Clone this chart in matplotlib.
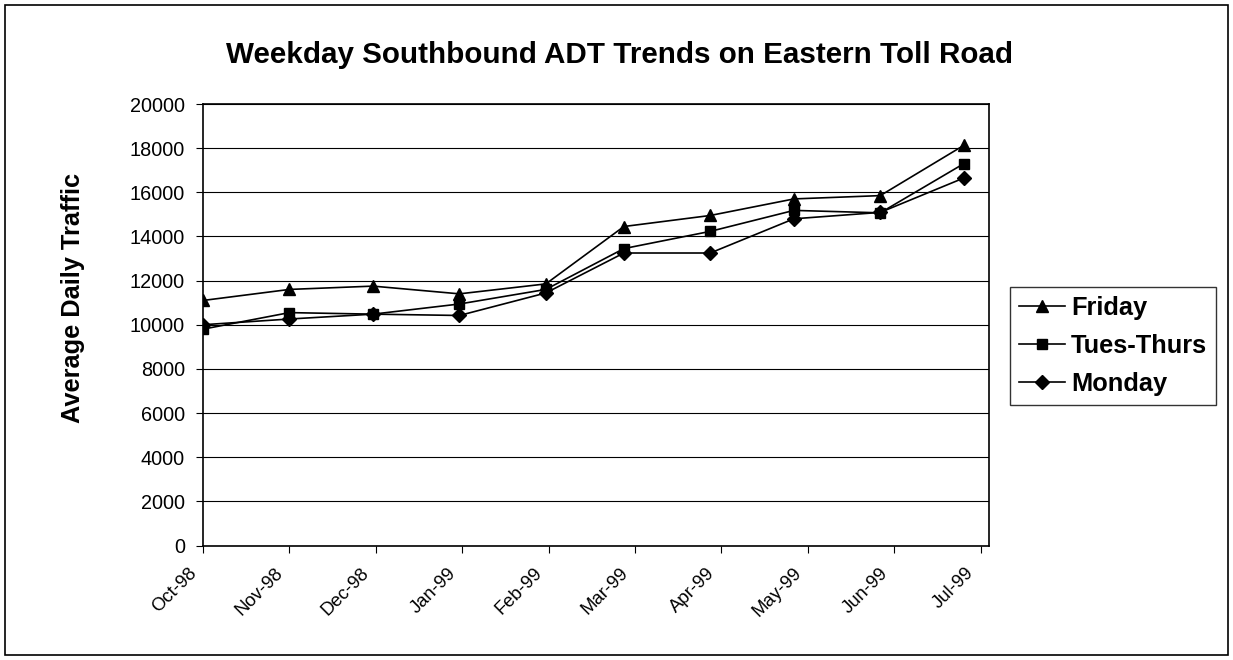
import matplotlib
matplotlib.use("Agg")
import matplotlib.pyplot as plt
import matplotlib.dates as mdates
from matplotlib.transforms import ScaledTranslation
from matplotlib.patches import Rectangle
import pandas as pd

# ---- data ----
months = ["1998-10-01", "1998-11-01", "1998-12-01", "1999-01-01", "1999-02-01",
          "1999-03-01", "1999-04-01", "1999-05-01", "1999-06-01", "1999-07-01"]
friday = [11100, 11600, 11750, 11400, 11850, 14450, 14950, 15700, 15850, 18130]
tues_thurs = [9800, 10550, 10480, 10940, 11600, 13450, 14230, 15180, 15070, 17300]
monday = [10000, 10260, 10480, 10420, 11440, 13250, 13250, 14800, 15090, 16650]
series_names = ["Friday", "Tues-Thurs", "Monday"]
y_ticks = [0, 2000, 4000, 6000, 8000, 10000, 12000, 14000, 16000, 18000, 20000]
title = "Weekday Southbound ADT Trends on Eastern Toll Road"
y_label = "Average Daily Traffic"

dates = pd.to_datetime(months)
tick_dates = pd.date_range(start=dates[0], periods=10, freq="31D")

plt.rcParams["font.family"] = ["Liberation Sans", "DejaVu Sans"]

W, H, DPI = 1233, 660, 100
fig = plt.figure(figsize=(W / DPI, H / DPI), dpi=DPI)
fig.patch.set_facecolor("white")

ax = fig.add_axes([203 / W, 1 - 545.5 / H, (989 - 203) / W, (545.5 - 104) / H])

markers = ["^", "s", "D"]
msizes = [9, 7, 7]
for vals, name, m, ms in zip([friday, tues_thurs, monday], series_names, markers, msizes):
    ax.plot(dates, vals, color="black", lw=1.2, marker=m, markersize=ms,
            markerfacecolor="black", markeredgecolor="black", label=name, zorder=3)

ax.set_ylim(0, 20000)
ax.set_yticks(y_ticks)
ax.set_xlim(dates[0], dates[0] + pd.Timedelta(days=282))
ax.set_xticks(tick_dates)
ax.xaxis.set_major_formatter(mdates.DateFormatter("%b-%y"))

ax.yaxis.grid(True, color="black", lw=0.8)
ax.xaxis.grid(False)
ax.set_axisbelow(True)
for s in ax.spines.values():
    s.set_color("black")
    s.set_linewidth(1.2)

ax.tick_params(axis="y", direction="out", length=5, width=0.8, pad=8, labelsize=14.3, colors="black")
ax.tick_params(axis="x", direction="out", length=5, width=0.8, pad=13, labelsize=13.3, colors="black")
offset = ScaledTranslation(-9 / DPI, 0, fig.dpi_scale_trans)
for lab in ax.get_xticklabels():
    lab.set_rotation(45)
    lab.set_ha("right")
    lab.set_va("center")
    lab.set_rotation_mode("anchor")
    lab.set_transform(lab.get_transform() + offset)

fig.text(620 / W, 1 - 62.7 / H, title, ha="center", va="baseline",
         fontsize=21.3, fontweight="bold")
fig.text(73 / W, 1 - 298 / H, y_label, ha="center", va="center", rotation=90,
         fontsize=18.3, fontweight="bold")

handles, labels = ax.get_legend_handles_labels()
leg = fig.legend(handles, labels, loc="center", bbox_to_anchor=(1113 / W, 1 - 346 / H),
                 prop={"weight": "bold", "size": 18.3}, frameon=True, fancybox=False,
                 handlelength=1.8, handletextpad=0.25, labelspacing=0.55,
                 borderpad=0.35, borderaxespad=0)
leg.get_frame().set_edgecolor("black")
leg.get_frame().set_linewidth(1.0)

fig.patches.append(Rectangle((5 / W, 5 / H), (1228 - 5) / W, (655 - 5) / H,
                             transform=fig.transFigure, fill=False,
                             edgecolor="black", lw=1.2))

fig.savefig("out.png", dpi=DPI, facecolor="white")
